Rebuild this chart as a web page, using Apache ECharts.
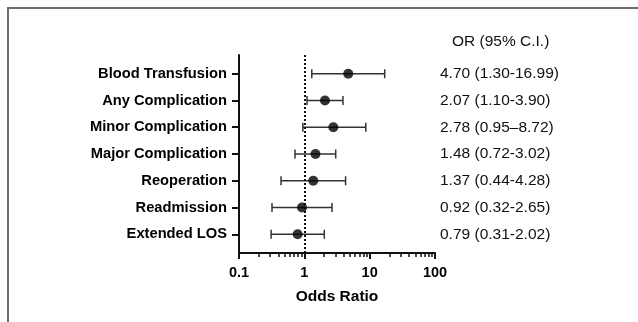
<!DOCTYPE html>
<html><head><meta charset="utf-8">
<script src="https://cdn.jsdelivr.net/npm/echarts@6/dist/echarts.min.js"></script>
<style>html,body{margin:0;padding:0;background:#fff}#c{width:638px;height:322px}</style>
</head><body><div id="c"></div>
<script>
const categories = ['Blood Transfusion','Any Complication','Minor Complication','Major Complication','Reoperation','Readmission','Extended LOS'];
const oddsRatio = [4.70, 2.07, 2.78, 1.48, 1.37, 0.92, 0.79];
const ciLow = [1.30, 1.10, 0.95, 0.72, 0.44, 0.32, 0.31];
const ciHigh = [16.99, 3.90, 8.72, 3.02, 4.28, 2.65, 2.02];
const ciText = ['4.70 (1.30-16.99)','2.07 (1.10-3.90)','2.78 (0.95\u20138.72)','1.48 (0.72-3.02)','1.37 (0.44-4.28)','0.92 (0.32-2.65)','0.79 (0.31-2.02)'];
const xTickValues = [0.1, 1, 10, 100];
const xMinorTicks = [0.2,0.3,0.4,0.5,0.6,0.7,0.8,0.9,2,3,4,5,6,7,8,9,20,30,40,50,60,70,80,90];
const headerText = 'OR (95% C.I.)';
const xName = 'Odds Ratio';

const rows = categories.map((c, i) => i + 1);
const FONT = '"Liberation Sans", Arial, Helvetica, sans-serif';

const chart = echarts.init(document.getElementById('c'), null, {renderer: 'canvas'});
const yBase = {
  type: 'value', inverse: true, min: 0.3, max: 7.7,
  splitLine: {show: false}
};
chart.setOption({
  animation: false,
  backgroundColor: '#fff',
  title: {
    text: headerText, left: 447, top: 29,
    textStyle: {fontFamily: FONT, fontSize: 15.5, fontWeight: 'normal', color: '#111'}
  },
  graphic: [{
    type: 'polyline', silent: true,
    shape: {points: [[8, 322], [8, 8], [638, 8]]},
    style: {stroke: '#6e6e6e', lineWidth: 2, fill: null}
  }],
  grid: {left: 239, right: 203, top: 55, bottom: 69, containLabel: false},
  xAxis: [{
    type: 'log', logBase: 10, min: 0.1, max: 100,
    name: xName, nameLocation: 'middle', nameGap: 36,
    nameTextStyle: {fontFamily: FONT, fontSize: 15.5, fontWeight: 'bold', color: '#000'},
    axisLine: {show: true, lineStyle: {color: '#111', width: 2}},
    axisTick: {show: true, length: 6, lineStyle: {color: '#111', width: 2}, customValues: xTickValues},
    axisLabel: {fontFamily: FONT, fontSize: 14.5, fontWeight: 'bold', color: '#000', margin: 12,
      customValues: xTickValues, formatter: v => String(v)},
    splitLine: {show: false}
  }, {
    type: 'log', logBase: 10, min: 0.1, max: 100, position: 'bottom',
    axisLine: {show: false},
    axisTick: {show: true, length: 4, lineStyle: {color: '#111', width: 1.5}, customValues: xMinorTicks},
    axisLabel: {show: false},
    splitLine: {show: false}
  }],
  yAxis: [Object.assign({}, yBase, {
    position: 'left',
    axisLine: {show: true, lineStyle: {color: '#111', width: 2}},
    axisTick: {show: true, length: 7, lineStyle: {color: '#111', width: 2}, customValues: rows},
    axisLabel: {customValues: rows, margin: 12, fontFamily: FONT, fontSize: 14.7, fontWeight: 'bold', color: '#000',
      formatter: v => categories[Math.round(v) - 1] || ''}
  }), Object.assign({}, yBase, {
    position: 'right',
    axisLine: {show: false},
    axisTick: {show: false, customValues: rows},
    axisLabel: {customValues: rows, margin: 5, align: 'left', fontFamily: FONT, fontSize: 15.5, color: '#111',
      formatter: v => ciText[Math.round(v) - 1] || ''}
  })],
  series: [{
    type: 'custom',
    xAxisIndex: 0, yAxisIndex: 0,
    data: rows.map((r, i) => [ciLow[i], ciHigh[i], r]),
    encode: {x: [0, 1], y: 2},
    renderItem: function (params, api) {
      const y = api.value(2);
      const a = api.coord([api.value(0), y]);
      const b = api.coord([api.value(1), y]);
      const h = 4.5;
      const st = {stroke: '#333', lineWidth: 1.5};
      return {type: 'group', children: [
        {type: 'line', shape: {x1: a[0], y1: a[1], x2: b[0], y2: b[1]}, style: st},
        {type: 'line', shape: {x1: a[0], y1: a[1] - h, x2: a[0], y2: a[1] + h}, style: st},
        {type: 'line', shape: {x1: b[0], y1: b[1] - h, x2: b[0], y2: b[1] + h}, style: st}
      ]};
    },
    markLine: {
      silent: true, symbol: 'none', label: {show: false},
      lineStyle: {type: [2, 2], color: '#111', width: 2},
      data: [{xAxis: 1}]
    }
  }, {
    type: 'scatter', xAxisIndex: 0, yAxisIndex: 0,
    symbol: 'circle', symbolSize: 10,
    itemStyle: {color: '#000'},
    data: rows.map((r, i) => [oddsRatio[i], r]),
    z: 5
  }]
});
</script></body></html>
